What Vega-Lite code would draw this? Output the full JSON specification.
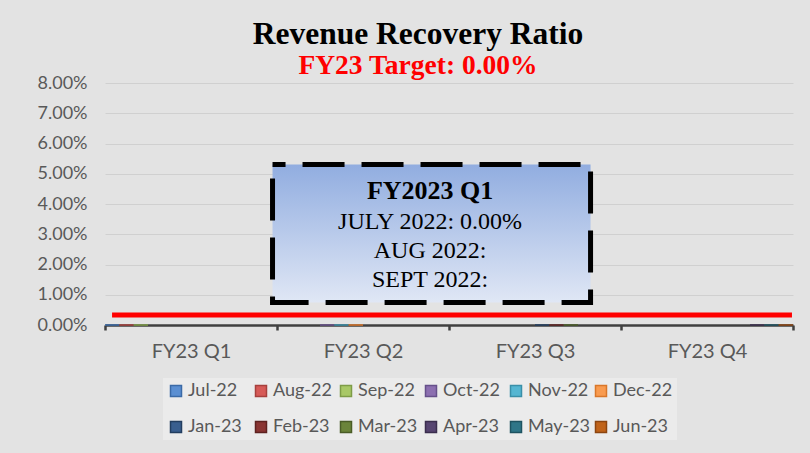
{
  "$schema": "https://vega.github.io/schema/vega-lite/v6.json",
  "width": 688,
  "height": 242,
  "autosize": {"type": "none"},
  "padding": {"left": 105, "top": 83, "right": 17, "bottom": 128},
  "background": "#e3e3e3",
  "config": {
    "view": {"stroke": null},
    "font": "Lato",
    "axisY": {
      "domain": false,
      "ticks": false,
      "labelPadding": 18,
      "labelFont": "Lato",
      "labelFontSize": 18,
      "labelColor": "#595959",
      "grid": true,
      "gridColor": "#d0d0d0",
      "gridWidth": 1,
      "labelOverlap": false
    }
  },
  "title": {
    "text": "Revenue Recovery Ratio",
    "subtitle": "FY23 Target: 0.00%",
    "font": "Liberation Serif",
    "fontSize": 31.5,
    "fontWeight": "bold",
    "color": "#000000",
    "subtitleFont": "Liberation Serif",
    "subtitleFontSize": 27.5,
    "subtitleFontWeight": "bold",
    "subtitleColor": "#ff0000",
    "anchor": "middle",
    "dx": -31,
    "offset": -5,
    "subtitlePadding": 1
  },
  "datasets": {
    "bars": [
      {"quarter": "FY23 Q1", "month": "Jul-22", "ratio": 0},
      {"quarter": "FY23 Q1", "month": "Aug-22", "ratio": 0},
      {"quarter": "FY23 Q1", "month": "Sep-22", "ratio": 0},
      {"quarter": "FY23 Q2", "month": "Oct-22", "ratio": 0},
      {"quarter": "FY23 Q2", "month": "Nov-22", "ratio": 0},
      {"quarter": "FY23 Q2", "month": "Dec-22", "ratio": 0},
      {"quarter": "FY23 Q3", "month": "Jan-23", "ratio": 0},
      {"quarter": "FY23 Q3", "month": "Feb-23", "ratio": 0},
      {"quarter": "FY23 Q3", "month": "Mar-23", "ratio": 0},
      {"quarter": "FY23 Q4", "month": "Apr-23", "ratio": 0},
      {"quarter": "FY23 Q4", "month": "May-23", "ratio": 0},
      {"quarter": "FY23 Q4", "month": "Jun-23", "ratio": 0}
    ],
    "box": [{"x1": 0.974, "x2": 2.823, "y1": 0.05306, "y2": 0.00744}],
    "boxTitle": [{"x": 1.89, "y": 0.04165, "line": "FY2023 Q1"}],
    "boxLines": [
      {"x": 1.89, "y": 0.03174, "line": "JULY 2022: 0.00%"},
      {"x": 1.89, "y": 0.02215, "line": "AUG 2022:"},
      {"x": 1.89, "y": 0.01256, "line": "SEPT 2022:"}
    ],
    "target": [{"start": 0.041, "end": 3.994, "target": 0.0033}]
  },
  "resolve": {"scale": {"x": "independent"}},
  "layer": [
    {
      "data": {"name": "bars"},
      "mark": {"type": "bar", "filled": true, "strokeWidth": 1},
      "encoding": {
        "x": {
          "field": "quarter",
          "type": "nominal",
          "scale": {"paddingInner": 0, "paddingOuter": 0},
          "axis": {
            "title": null,
            "labelAngle": 0,
            "tickBand": "extent",
            "domainColor": "#404040",
            "domainWidth": 2.5,
            "tickColor": "#404040",
            "tickWidth": 2.5,
            "tickSize": 5,
            "labelFont": "Lato",
            "labelFontSize": 20,
            "labelColor": "#595959",
            "labelPadding": 11,
            "grid": false
          }
        },
        "xOffset": {"field": "month", "type": "nominal", "sort": null},
        "y": {
          "field": "ratio",
          "type": "quantitative",
          "scale": {"domain": [0, 0.08], "nice": false},
          "axis": {
            "title": null,
            "format": ".2%",
            "values": [0, 0.01, 0.02, 0.03, 0.04, 0.05, 0.06, 0.07, 0.08]
          }
        },
        "fill": {
          "field": "month",
          "type": "nominal",
          "scale": {
            "domain": ["Jul-22", "Aug-22", "Sep-22", "Oct-22", "Nov-22", "Dec-22", "Jan-23", "Feb-23", "Mar-23", "Apr-23", "May-23", "Jun-23"],
            "range": ["#5B8FD2", "#D65A57", "#A8C866", "#8C6FB0", "#55B6D2", "#F99B4F", "#3A5F8F", "#8A3533", "#6B843A", "#574571", "#2F7688", "#C0631A"]
          },
          "legend": {
            "title": null,
            "orient": "none",
            "legendX": 58,
            "legendY": 295,
            "direction": "horizontal",
            "columns": 6,
            "gridAlign": "all",
            "symbolType": "square",
            "symbolSize": 121,
            "symbolStrokeWidth": 1.5,
            "labelFont": "Lato",
            "labelFontSize": 18,
            "labelColor": "#595959",
            "labelOffset": 3,
            "columnPadding": 1,
            "rowPadding": 18,
            "padding": 4,
            "fillColor": "#ebebeb"
          }
        },
        "stroke": {
          "field": "month",
          "type": "nominal",
          "scale": {
            "domain": ["Jul-22", "Aug-22", "Sep-22", "Oct-22", "Nov-22", "Dec-22", "Jan-23", "Feb-23", "Mar-23", "Apr-23", "May-23", "Jun-23"],
            "range": ["#3B6AA6", "#A6403D", "#7E9C47", "#66508A", "#3A8FA8", "#D9772A", "#233E60", "#5E2220", "#4A5C27", "#3B2E4E", "#1E5361", "#8C4510"]
          },
          "legend": {
            "title": null,
            "orient": "none",
            "legendX": 58,
            "legendY": 295,
            "direction": "horizontal",
            "columns": 6,
            "gridAlign": "all",
            "symbolType": "square",
            "symbolSize": 121,
            "symbolStrokeWidth": 1.5,
            "labelFont": "Lato",
            "labelFontSize": 18,
            "labelColor": "#595959",
            "labelOffset": 3,
            "columnPadding": 1,
            "rowPadding": 18,
            "padding": 4,
            "fillColor": "#ebebeb"
          }
        }
      }
    },
    {
      "data": {"name": "target"},
      "mark": {"type": "rule", "color": "#ff0000", "strokeWidth": 5},
      "encoding": {
        "x": {"field": "start", "type": "quantitative", "scale": {"domain": [0, 4], "nice": false, "zero": false}, "axis": null},
        "x2": {"field": "end"},
        "y": {
          "field": "target",
          "type": "quantitative",
          "axis": {
            "title": null,
            "format": ".2%",
            "values": [0, 0.01, 0.02, 0.03, 0.04, 0.05, 0.06, 0.07, 0.08]
          }
        }
      }
    },
    {
      "data": {"name": "box"},
      "mark": {
        "type": "rect",
        "stroke": "#000000",
        "strokeWidth": 5,
        "strokeDash": [42, 17],
        "strokeDashOffset": 29,
        "fill": {
          "gradient": "linear",
          "x1": 0, "y1": 0, "x2": 0, "y2": 1,
          "stops": [
            {"offset": 0, "color": "#91ade0"},
            {"offset": 1, "color": "#e0e7f5"}
          ]
        }
      },
      "encoding": {
        "x": {"field": "x1", "type": "quantitative", "scale": {"domain": [0, 4], "nice": false, "zero": false}, "axis": null},
        "x2": {"field": "x2"},
        "y": {
          "field": "y1",
          "type": "quantitative",
          "axis": {
            "title": null,
            "format": ".2%",
            "values": [0, 0.01, 0.02, 0.03, 0.04, 0.05, 0.06, 0.07, 0.08]
          }
        },
        "y2": {"field": "y2"}
      }
    },
    {
      "data": {"name": "boxTitle"},
      "mark": {"type": "text", "font": "Liberation Serif", "fontSize": 26, "fontWeight": "bold", "color": "#000000", "align": "center", "baseline": "alphabetic"},
      "encoding": {
        "x": {"field": "x", "type": "quantitative", "scale": {"domain": [0, 4], "nice": false, "zero": false}, "axis": null},
        "y": {
          "field": "y",
          "type": "quantitative",
          "axis": {
            "title": null,
            "format": ".2%",
            "values": [0, 0.01, 0.02, 0.03, 0.04, 0.05, 0.06, 0.07, 0.08]
          }
        },
        "text": {"field": "line"}
      }
    },
    {
      "data": {"name": "boxLines"},
      "mark": {"type": "text", "font": "Liberation Serif", "fontSize": 24, "color": "#000000", "align": "center", "baseline": "alphabetic"},
      "encoding": {
        "x": {"field": "x", "type": "quantitative", "scale": {"domain": [0, 4], "nice": false, "zero": false}, "axis": null},
        "y": {
          "field": "y",
          "type": "quantitative",
          "axis": {
            "title": null,
            "format": ".2%",
            "values": [0, 0.01, 0.02, 0.03, 0.04, 0.05, 0.06, 0.07, 0.08]
          }
        },
        "text": {"field": "line"}
      }
    }
  ]
}
